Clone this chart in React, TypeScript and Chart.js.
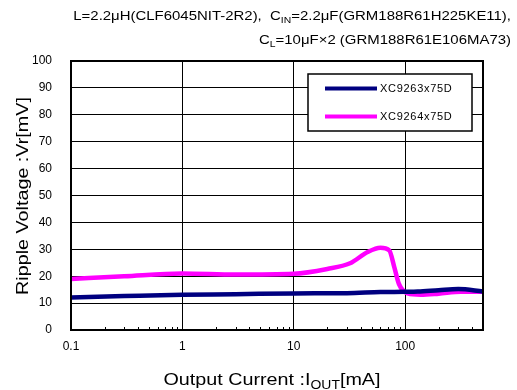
import React, { useEffect, useRef } from "react";
import { Chart, registerables } from "chart.js";

Chart.register(...registerables);

const seriesNames = ["XC9263x75D", "XC9264x75D"];
const seriesColors = ["#000080", "#FF00FF"];

const xcBlue = [0.1, 0.3, 1, 3, 10, 30, 60, 100, 130, 200, 300, 500];
const ycBlue = [12.1, 12.6, 13.1, 13.3, 13.6, 13.7, 14.1, 14.2, 14.3, 14.8, 15.2, 14.3];

const xcPink = [0.1, 0.3, 1, 3, 10, 20, 32, 46, 60, 72, 80, 88, 105, 138, 200, 316, 500];
const ycPink = [19.0, 20.0, 21.0, 20.6, 20.9, 22.7, 24.8, 29.0, 30.6, 29.6, 23.3, 17.1, 13.6, 13.1, 13.5, 14.2, 14.2];

const xMajorTicks = [0.1, 1, 10, 100];
const xMinorTicks = [0.2, 0.3, 0.4, 0.5, 0.6, 0.7, 0.8, 0.9, 2, 3, 4, 5, 6, 7, 8, 9, 20, 30, 40, 50, 60, 70, 80, 90, 200, 300, 400];

const titleLine1 = [
  { t: "L=2.2\u03bcH(CLF6045NIT-2R2),  C" },
  { t: "IN", sub: true },
  { t: "=2.2\u03bcF(GRM188R61H225KE11)," },
];
const titleLine2 = [
  { t: "C" },
  { t: "L", sub: true },
  { t: "=10\u03bcF\u00d72 (GRM188R61E106MA73)" },
];
const xTitle = [{ t: "Output Current :I" }, { t: "OUT", sub: true }, { t: "[mA]" }];
const yTitle = [{ t: "Ripple Voltage :Vr[mV]" }];

const FONT = "'Liberation Sans', Arial, sans-serif";

function richWidth(ctx: CanvasRenderingContext2D, segs: any[], size: number) {
  const main = `${size}px ${FONT}`;
  const sub = `${Math.round(size * 0.7)}px ${FONT}`;
  let total = 0;
  segs.forEach((s) => {
    ctx.font = s.sub ? sub : main;
    total += ctx.measureText(s.t).width;
  });
  return total;
}

function drawRich(
  ctx: CanvasRenderingContext2D,
  segs: any[],
  x: number,
  y: number,
  size: number,
  align: "right" | "center",
  k: number
) {
  const main = `${size}px ${FONT}`;
  const sub = `${Math.round(size * 0.7)}px ${FONT}`;
  const total = richWidth(ctx, segs, size);
  ctx.save();
  ctx.translate(x, y);
  ctx.scale(k, 1);
  let cx = align === "right" ? -total : -total / 2;
  ctx.textAlign = "left";
  ctx.textBaseline = "alphabetic";
  segs.forEach((s) => {
    ctx.font = s.sub ? sub : main;
    ctx.fillText(s.t, cx, s.sub ? size * 0.22 : 0);
    cx += ctx.measureText(s.t).width;
  });
  ctx.restore();
}

const decorPlugin = {
  id: "decor",
  afterDraw(chart: any) {
    const ctx = chart.ctx as CanvasRenderingContext2D;
    const { left, right, top, bottom } = chart.chartArea;
    const xs = chart.scales.x;
    ctx.save();
    // minor ticks
    ctx.strokeStyle = "#000";
    ctx.lineWidth = 1;
    xMinorTicks.forEach((v) => {
      const px = Math.round(xs.getPixelForValue(v)) + 0.5;
      ctx.beginPath();
      ctx.moveTo(px, bottom);
      ctx.lineTo(px, bottom - 3);
      ctx.stroke();
    });
    // frame
    ctx.lineWidth = 2;
    ctx.strokeRect(left, top, right - left, bottom - top);

    // legend box
    const bx = 308, by = 74, bw = 164, bh = 57;
    ctx.fillStyle = "#fff";
    ctx.fillRect(bx, by, bw, bh);
    ctx.lineWidth = 1.5;
    ctx.strokeStyle = "#000";
    ctx.strokeRect(bx, by, bw, bh);
    const rows = [88.5, 116.5];
    chart.data.datasets.forEach((ds: any, i: number) => {
      ctx.strokeStyle = ds.borderColor;
      ctx.lineWidth = 4;
      ctx.beginPath();
      ctx.moveTo(325, rows[i]);
      ctx.lineTo(377, rows[i]);
      ctx.stroke();
      ctx.fillStyle = "#000";
      ctx.font = `11px ${FONT}`;
      ctx.textAlign = "left";
      ctx.textBaseline = "middle";
      (ctx as any).letterSpacing = "0.7px";
      ctx.fillText(ds.label, 380, rows[i] + 0.5);
      (ctx as any).letterSpacing = "0px";
    });

    // titles
    ctx.fillStyle = "#000";
    const k1 = 252 / richWidth(ctx, titleLine2, 13);
    drawRich(ctx, titleLine1, 511, 20, 13, "right", k1);
    drawRich(ctx, titleLine2, 511, 44, 13, "right", k1);
    const kx = 217 / richWidth(ctx, xTitle, 17);
    drawRich(ctx, xTitle, 272, 385, 17, "center", kx);
    ctx.translate(22, 196);
    ctx.rotate(-Math.PI / 2);
    drawRich(ctx, yTitle, 0, 6, 17, "center", kx);
    ctx.restore();
  },
};

export default function App() {
  const ref = useRef<HTMLCanvasElement>(null);
  useEffect(() => {
    if (!ref.current) return;
    const mk = (xs: number[], ys: number[]) => xs.map((x, i) => ({ x, y: ys[i] }));
    const chart = new Chart(ref.current, {
      type: "line",
      data: {
        datasets: [
          {
            label: seriesNames[0],
            data: mk(xcBlue, ycBlue),
            borderColor: seriesColors[0],
            backgroundColor: seriesColors[0],
            borderWidth: 4.5,
            pointRadius: 0,
            cubicInterpolationMode: "monotone",
          },
          {
            label: seriesNames[1],
            data: mk(xcPink, ycPink),
            borderColor: seriesColors[1],
            backgroundColor: seriesColors[1],
            borderWidth: 4.5,
            pointRadius: 0,
            cubicInterpolationMode: "monotone",
          },
        ],
      },
      options: {
        responsive: false,
        animation: false,
        layout: { padding: { left: 0, top: 61, right: 34, bottom: 0 } },
        plugins: { legend: { display: false }, tooltip: { enabled: false } },
        scales: {
          x: {
            type: "logarithmic",
            min: 0.1,
            max: 500,
            afterBuildTicks: (s: any) => {
              s.ticks = xMajorTicks.map((v) => ({ value: v, major: true }));
            },
            afterFit: (s: any) => {
              s.height = 60;
            },
            ticks: {
              autoSkip: false,
              maxRotation: 0,
              padding: 9,
              color: "#000",
              font: { family: FONT, size: 12 },
              callback: (v: any) => String(v),
            },
            grid: { color: "#000", lineWidth: 1, drawTicks: false },
            border: { color: "#000", width: 2 },
          },
          y: {
            min: 0,
            max: 100,
            afterFit: (s: any) => {
              s.width = 71;
            },
            ticks: {
              stepSize: 10,
              padding: 19,
              color: "#000",
              font: { family: FONT, size: 12 },
            },
            grid: { color: "#000", lineWidth: 1, drawTicks: false },
            border: { color: "#000", width: 2 },
          },
        },
      },
      plugins: [decorPlugin],
    } as any);
    return () => chart.destroy();
  }, []);
  return (
    <div style={{ position: "absolute", left: 0, top: 0, width: 517, height: 390, background: "#fff" }}>
      <canvas ref={ref} width={517} height={390} style={{ display: "block" }} />
    </div>
  );
}
